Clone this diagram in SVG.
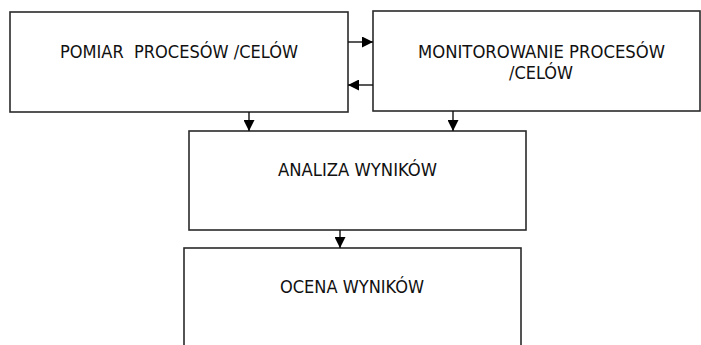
<svg xmlns="http://www.w3.org/2000/svg" width="701" height="345" viewBox="0 0 701 345">
  <style>
    .box { fill: #ffffff; stroke: #2a2a2a; stroke-width: 1.6; }
    .lbl { font-family: "DejaVu Sans Condensed", "DejaVu Sans", sans-serif; font-size: 17px; fill: #111111; text-anchor: middle; white-space: pre; }
    .conn { stroke: #111111; stroke-width: 1.4; fill: none; marker-end: url(#head); }
  </style>
  <defs>
    <marker id="head" viewBox="0 0 11 11" refX="11" refY="5.5" markerWidth="11" markerHeight="11" markerUnits="userSpaceOnUse" orient="auto">
      <path d="M0,0 L11,5.5 L0,11 Z" fill="#000000"/>
    </marker>
  </defs>
  <rect width="701" height="345" fill="#ffffff"/>

  <g id="pomiar">
    <rect class="box" x="10" y="12" width="338" height="100"/>
    <text class="lbl" x="179" y="58" xml:space="preserve" textLength="238" lengthAdjust="spacingAndGlyphs">POMIAR  PROCESÓW /CELÓW</text>
  </g>

  <g id="monitorowanie">
    <rect class="box" x="373" y="11" width="327" height="100"/>
    <text class="lbl" x="541.5" y="58" textLength="247" lengthAdjust="spacingAndGlyphs">MONITOROWANIE PROCESÓW</text>
    <text class="lbl" x="541" y="79" textLength="64" lengthAdjust="spacingAndGlyphs">/CELÓW</text>
  </g>

  <g id="analiza">
    <rect class="box" x="189" y="131" width="337" height="99"/>
    <text class="lbl" x="357.5" y="176" textLength="159" lengthAdjust="spacingAndGlyphs">ANALIZA WYNIKÓW</text>
  </g>

  <g id="ocena">
    <rect class="box" x="184" y="248" width="337" height="110"/>
    <text class="lbl" x="352" y="293" textLength="144" lengthAdjust="spacingAndGlyphs">OCENA WYNIKÓW</text>
  </g>

  <g id="connectors">
    <line class="conn" x1="348" y1="42" x2="373" y2="42"/>
    <line class="conn" x1="373" y1="85" x2="348" y2="85"/>
    <line class="conn" x1="249" y1="112" x2="249" y2="131"/>
    <line class="conn" x1="453" y1="111" x2="453" y2="131"/>
    <line class="conn" x1="340" y1="230" x2="340" y2="248"/>
  </g>
</svg>
